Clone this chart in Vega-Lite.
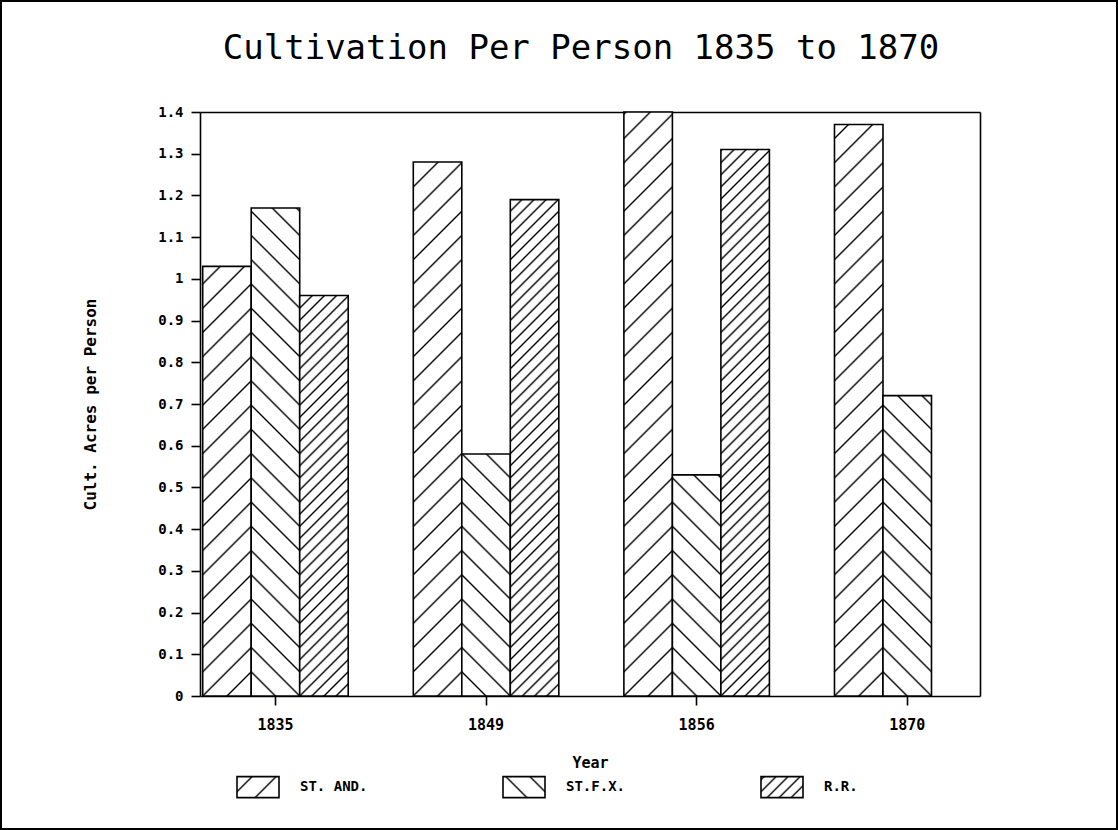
{
  "$schema": "https://vega.github.io/schema/vega-lite/v6.json",
  "width": 1116,
  "height": 828,
  "autosize": {"type": "none"},
  "padding": 1,
  "background": "white",
  "title": {
    "text": "Cultivation Per Person 1835 to 1870",
    "font": "DejaVu Sans Mono",
    "fontSize": 34,
    "fontWeight": "normal",
    "color": "black",
    "anchor": "middle",
    "offset": -65,
    "dx": 22
  },
  "params": [
    {"name": "sA", "value": [
      {"offset":0.034,"color":"#fff"},{"offset":0.037,"color":"#000"},{"offset":0.040,"color":"#fff"},
      {"offset":0.0711,"color":"#fff"},{"offset":0.0741,"color":"#000"},{"offset":0.0771,"color":"#fff"},
      {"offset":0.1081,"color":"#fff"},{"offset":0.1111,"color":"#000"},{"offset":0.1141,"color":"#fff"},
      {"offset":0.1451,"color":"#fff"},{"offset":0.1481,"color":"#000"},{"offset":0.1511,"color":"#fff"},
      {"offset":0.1822,"color":"#fff"},{"offset":0.1852,"color":"#000"},{"offset":0.1882,"color":"#fff"},
      {"offset":0.2192,"color":"#fff"},{"offset":0.2222,"color":"#000"},{"offset":0.2252,"color":"#fff"},
      {"offset":0.2563,"color":"#fff"},{"offset":0.2593,"color":"#000"},{"offset":0.2623,"color":"#fff"},
      {"offset":0.2933,"color":"#fff"},{"offset":0.2963,"color":"#000"},{"offset":0.2993,"color":"#fff"},
      {"offset":0.3303,"color":"#fff"},{"offset":0.3333,"color":"#000"},{"offset":0.3363,"color":"#fff"},
      {"offset":0.3674,"color":"#fff"},{"offset":0.3704,"color":"#000"},{"offset":0.3734,"color":"#fff"},
      {"offset":0.4044,"color":"#fff"},{"offset":0.4074,"color":"#000"},{"offset":0.4104,"color":"#fff"},
      {"offset":0.4414,"color":"#fff"},{"offset":0.4444,"color":"#000"},{"offset":0.4474,"color":"#fff"},
      {"offset":0.4785,"color":"#fff"},{"offset":0.4815,"color":"#000"},{"offset":0.4845,"color":"#fff"},
      {"offset":0.5155,"color":"#fff"},{"offset":0.5185,"color":"#000"},{"offset":0.5215,"color":"#fff"},
      {"offset":0.5526,"color":"#fff"},{"offset":0.5556,"color":"#000"},{"offset":0.5586,"color":"#fff"},
      {"offset":0.5896,"color":"#fff"},{"offset":0.5926,"color":"#000"},{"offset":0.5956,"color":"#fff"},
      {"offset":0.6266,"color":"#fff"},{"offset":0.6296,"color":"#000"},{"offset":0.6326,"color":"#fff"},
      {"offset":0.6637,"color":"#fff"},{"offset":0.6667,"color":"#000"},{"offset":0.6697,"color":"#fff"},
      {"offset":0.7007,"color":"#fff"},{"offset":0.7037,"color":"#000"},{"offset":0.7067,"color":"#fff"},
      {"offset":0.7377,"color":"#fff"},{"offset":0.7407,"color":"#000"},{"offset":0.7437,"color":"#fff"},
      {"offset":0.7748,"color":"#fff"},{"offset":0.7778,"color":"#000"},{"offset":0.7808,"color":"#fff"},
      {"offset":0.8118,"color":"#fff"},{"offset":0.8148,"color":"#000"},{"offset":0.8178,"color":"#fff"},
      {"offset":0.8489,"color":"#fff"},{"offset":0.8519,"color":"#000"},{"offset":0.8549,"color":"#fff"},
      {"offset":0.8859,"color":"#fff"},{"offset":0.8889,"color":"#000"},{"offset":0.8919,"color":"#fff"},
      {"offset":0.9229,"color":"#fff"},{"offset":0.9259,"color":"#000"},{"offset":0.9289,"color":"#fff"},
      {"offset":0.9600,"color":"#fff"},{"offset":0.9630,"color":"#000"},{"offset":0.9660,"color":"#fff"}
    ]},
    {"name": "sR", "value": [
      {"offset":0.0711,"color":"#fff"},{"offset":0.0741,"color":"#000"},{"offset":0.0771,"color":"#fff"},
      {"offset":0.0896,"color":"#fff"},{"offset":0.0926,"color":"#000"},{"offset":0.0956,"color":"#fff"},
      {"offset":0.1081,"color":"#fff"},{"offset":0.1111,"color":"#000"},{"offset":0.1141,"color":"#fff"},
      {"offset":0.1266,"color":"#fff"},{"offset":0.1296,"color":"#000"},{"offset":0.1326,"color":"#fff"},
      {"offset":0.1451,"color":"#fff"},{"offset":0.1481,"color":"#000"},{"offset":0.1511,"color":"#fff"},
      {"offset":0.1637,"color":"#fff"},{"offset":0.1667,"color":"#000"},{"offset":0.1697,"color":"#fff"},
      {"offset":0.1822,"color":"#fff"},{"offset":0.1852,"color":"#000"},{"offset":0.1882,"color":"#fff"},
      {"offset":0.2007,"color":"#fff"},{"offset":0.2037,"color":"#000"},{"offset":0.2067,"color":"#fff"},
      {"offset":0.2192,"color":"#fff"},{"offset":0.2222,"color":"#000"},{"offset":0.2252,"color":"#fff"},
      {"offset":0.2377,"color":"#fff"},{"offset":0.2407,"color":"#000"},{"offset":0.2437,"color":"#fff"},
      {"offset":0.2563,"color":"#fff"},{"offset":0.2593,"color":"#000"},{"offset":0.2623,"color":"#fff"},
      {"offset":0.2748,"color":"#fff"},{"offset":0.2778,"color":"#000"},{"offset":0.2808,"color":"#fff"},
      {"offset":0.2933,"color":"#fff"},{"offset":0.2963,"color":"#000"},{"offset":0.2993,"color":"#fff"},
      {"offset":0.3118,"color":"#fff"},{"offset":0.3148,"color":"#000"},{"offset":0.3178,"color":"#fff"},
      {"offset":0.3303,"color":"#fff"},{"offset":0.3333,"color":"#000"},{"offset":0.3363,"color":"#fff"},
      {"offset":0.3489,"color":"#fff"},{"offset":0.3519,"color":"#000"},{"offset":0.3549,"color":"#fff"},
      {"offset":0.3674,"color":"#fff"},{"offset":0.3704,"color":"#000"},{"offset":0.3734,"color":"#fff"},
      {"offset":0.3859,"color":"#fff"},{"offset":0.3889,"color":"#000"},{"offset":0.3919,"color":"#fff"},
      {"offset":0.4044,"color":"#fff"},{"offset":0.4074,"color":"#000"},{"offset":0.4104,"color":"#fff"},
      {"offset":0.4229,"color":"#fff"},{"offset":0.4259,"color":"#000"},{"offset":0.4289,"color":"#fff"},
      {"offset":0.4414,"color":"#fff"},{"offset":0.4444,"color":"#000"},{"offset":0.4474,"color":"#fff"},
      {"offset":0.4600,"color":"#fff"},{"offset":0.4630,"color":"#000"},{"offset":0.4660,"color":"#fff"},
      {"offset":0.4785,"color":"#fff"},{"offset":0.4815,"color":"#000"},{"offset":0.4845,"color":"#fff"},
      {"offset":0.4970,"color":"#fff"},{"offset":0.5000,"color":"#000"},{"offset":0.5030,"color":"#fff"},
      {"offset":0.5155,"color":"#fff"},{"offset":0.5185,"color":"#000"},{"offset":0.5215,"color":"#fff"},
      {"offset":0.5340,"color":"#fff"},{"offset":0.5370,"color":"#000"},{"offset":0.5400,"color":"#fff"},
      {"offset":0.5526,"color":"#fff"},{"offset":0.5556,"color":"#000"},{"offset":0.5586,"color":"#fff"},
      {"offset":0.5711,"color":"#fff"},{"offset":0.5741,"color":"#000"},{"offset":0.5771,"color":"#fff"},
      {"offset":0.5896,"color":"#fff"},{"offset":0.5926,"color":"#000"},{"offset":0.5956,"color":"#fff"},
      {"offset":0.6081,"color":"#fff"},{"offset":0.6111,"color":"#000"},{"offset":0.6141,"color":"#fff"},
      {"offset":0.6266,"color":"#fff"},{"offset":0.6296,"color":"#000"},{"offset":0.6326,"color":"#fff"},
      {"offset":0.6451,"color":"#fff"},{"offset":0.6481,"color":"#000"},{"offset":0.6511,"color":"#fff"},
      {"offset":0.6637,"color":"#fff"},{"offset":0.6667,"color":"#000"},{"offset":0.6697,"color":"#fff"},
      {"offset":0.6822,"color":"#fff"},{"offset":0.6852,"color":"#000"},{"offset":0.6882,"color":"#fff"},
      {"offset":0.7007,"color":"#fff"},{"offset":0.7037,"color":"#000"},{"offset":0.7067,"color":"#fff"},
      {"offset":0.7192,"color":"#fff"},{"offset":0.7222,"color":"#000"},{"offset":0.7252,"color":"#fff"},
      {"offset":0.7377,"color":"#fff"},{"offset":0.7407,"color":"#000"},{"offset":0.7437,"color":"#fff"},
      {"offset":0.7563,"color":"#fff"},{"offset":0.7593,"color":"#000"},{"offset":0.7623,"color":"#fff"},
      {"offset":0.7748,"color":"#fff"},{"offset":0.7778,"color":"#000"},{"offset":0.7808,"color":"#fff"},
      {"offset":0.7933,"color":"#fff"},{"offset":0.7963,"color":"#000"},{"offset":0.7993,"color":"#fff"},
      {"offset":0.8118,"color":"#fff"},{"offset":0.8148,"color":"#000"},{"offset":0.8178,"color":"#fff"},
      {"offset":0.8303,"color":"#fff"},{"offset":0.8333,"color":"#000"},{"offset":0.8363,"color":"#fff"},
      {"offset":0.8489,"color":"#fff"},{"offset":0.8519,"color":"#000"},{"offset":0.8549,"color":"#fff"},
      {"offset":0.8674,"color":"#fff"},{"offset":0.8704,"color":"#000"},{"offset":0.8734,"color":"#fff"},
      {"offset":0.8859,"color":"#fff"},{"offset":0.8889,"color":"#000"},{"offset":0.8919,"color":"#fff"},
      {"offset":0.9044,"color":"#fff"},{"offset":0.9074,"color":"#000"},{"offset":0.9104,"color":"#fff"},
      {"offset":0.9229,"color":"#fff"},{"offset":0.9259,"color":"#000"},{"offset":0.9289,"color":"#fff"},
      {"offset":0.9414,"color":"#fff"},{"offset":0.9444,"color":"#000"},{"offset":0.9474,"color":"#fff"},
      {"offset":0.9600,"color":"#fff"},{"offset":0.9630,"color":"#000"},{"offset":0.9660,"color":"#fff"},
      {"offset":0.9785,"color":"#fff"},{"offset":0.9815,"color":"#000"},{"offset":0.9845,"color":"#fff"}
    ]}
  ],
  "data": {
    "values": [
      {"year": "1835", "series": "ST. AND.", "value": 1.03},
      {"year": "1835", "series": "ST.F.X.", "value": 1.17},
      {"year": "1835", "series": "R.R.", "value": 0.96},
      {"year": "1849", "series": "ST. AND.", "value": 1.28},
      {"year": "1849", "series": "ST.F.X.", "value": 0.58},
      {"year": "1849", "series": "R.R.", "value": 1.19},
      {"year": "1856", "series": "ST. AND.", "value": 1.40},
      {"year": "1856", "series": "ST.F.X.", "value": 0.53},
      {"year": "1856", "series": "R.R.", "value": 1.31},
      {"year": "1870", "series": "ST. AND.", "value": 1.37},
      {"year": "1870", "series": "ST.F.X.", "value": 0.72}
    ]
  },
  "layer": [
    {
      "mark": {
        "type": "bar",
        "strokeWidth": 1.6,
        "fill": {"expr": "isString(datum.value) ? (datum.value === 'ST.F.X.' ? {gradient: 'linear', x1: 0, y1: 1, x2: 12.343, y2: -5.171, stops: sA} : {gradient: 'linear', x1: 0, y1: -27.857, x2: 12.343, y2: -21.686, stops: (datum.value === 'R.R.' ? sR : sA)}) : (datum.series === 'ST.F.X.' ? {gradient: 'linear', x1: 0, y1: 1, x2: 31743.25/(2352.25+pow(datum.value*417.14,2)), y2: 1-datum.value*417.14*654.5/(2352.25+pow(datum.value*417.14,2)), stops: sA} : {gradient: 'linear', x1: 0, y1: 1-606/(datum.value*417.14), x2: 31743.25/(2352.25+pow(datum.value*417.14,2)), y2: 1-606/(datum.value*417.14)+datum.value*417.14*654.5/(2352.25+pow(datum.value*417.14,2)), stops: (datum.series === 'R.R.' ? sR : sA)})"}
      },
      "encoding": {
        "x": {
          "field": "year", "type": "nominal",
          "scale": {"domain": ["1835", "1849", "1856", "1870"], "range": [199, 979], "paddingInner": 0.309, "paddingOuter": 0.0064, "align": 1},
          "axis": {
            "orient": "bottom", "offset": -133, "labelAngle": 0,
            "labelFontSize": 15, "labelPadding": 19, "labelBaseline": "middle",
            "title": "Year", "titleFontSize": 15, "titleY": 66, "titleBaseline": "middle"
          }
        },
        "xOffset": {
          "field": "series", "type": "nominal",
          "scale": {"domain": ["ST. AND.", "ST.F.X.", "R.R."], "paddingInner": 0, "paddingOuter": 0}
        },
        "y": {
          "field": "value", "type": "quantitative",
          "scale": {"domain": [0, 1.4], "range": [695, 111], "nice": false},
          "axis": {
            "orient": "left", "offset": -199,
            "values": [0, 0.1, 0.2, 0.3, 0.4, 0.5, 0.6, 0.7, 0.8, 0.9, 1, 1.1, 1.2, 1.3, 1.4],
            "format": ".2~f", "labelFontSize": 14, "labelPadding": 8,
            "title": "Cult. Acres per Person", "titleFontSize": 16,
            "titleX": -110, "titleY": 403, "titleAngle": 270, "titleAlign": "center", "titleBaseline": "middle"
          }
        },
        "stroke": {
          "field": "series", "type": "nominal",
          "scale": {"domain": ["ST. AND.", "ST.F.X.", "R.R."], "range": ["black", "black", "black"]},
          "legend": {
            "orient": "none", "legendX": 235, "legendY": 764, "direction": "horizontal",
            "title": null, "padding": 0,
            "symbolType": "M-1,-0.5H1V0.5H-1Z", "symbolSize": 1764, "symbolStrokeWidth": 1.6, "symbolOpacity": 1,
            "labelFont": "DejaVu Sans Mono", "labelFontSize": 14, "labelFontWeight": "bold", "labelColor": "black",
            "labelOffset": 20, "columnPadding": 131
          }
        }
      }
    },
    {
      "mark": {"type": "bar", "opacity": 0},
      "encoding": {
        "x": {
          "field": "year", "type": "nominal",
          "axis": {"orient": "top", "offset": -111, "ticks": false, "labels": false, "title": null, "domain": true}
        },
        "xOffset": {"field": "series", "type": "nominal"},
        "y": {
          "field": "value", "type": "quantitative",
          "axis": {"orient": "right", "offset": -137, "ticks": false, "labels": false, "title": null, "domain": true}
        }
      }
    }
  ],
  "resolve": {"axis": {"x": "independent", "y": "independent"}},
  "config": {
    "view": {"stroke": "black", "strokeWidth": 2},
    "font": "DejaVu Sans Mono",
    "axis": {
      "grid": false,
      "domainColor": "black", "domainWidth": 1.6,
      "tickColor": "black", "tickWidth": 1.6, "tickSize": 9,
      "labelColor": "black", "labelFont": "DejaVu Sans Mono", "labelFontWeight": "bold",
      "titleColor": "black", "titleFont": "DejaVu Sans Mono", "titleFontWeight": "bold",
      "zindex": 1
    }
  }
}
